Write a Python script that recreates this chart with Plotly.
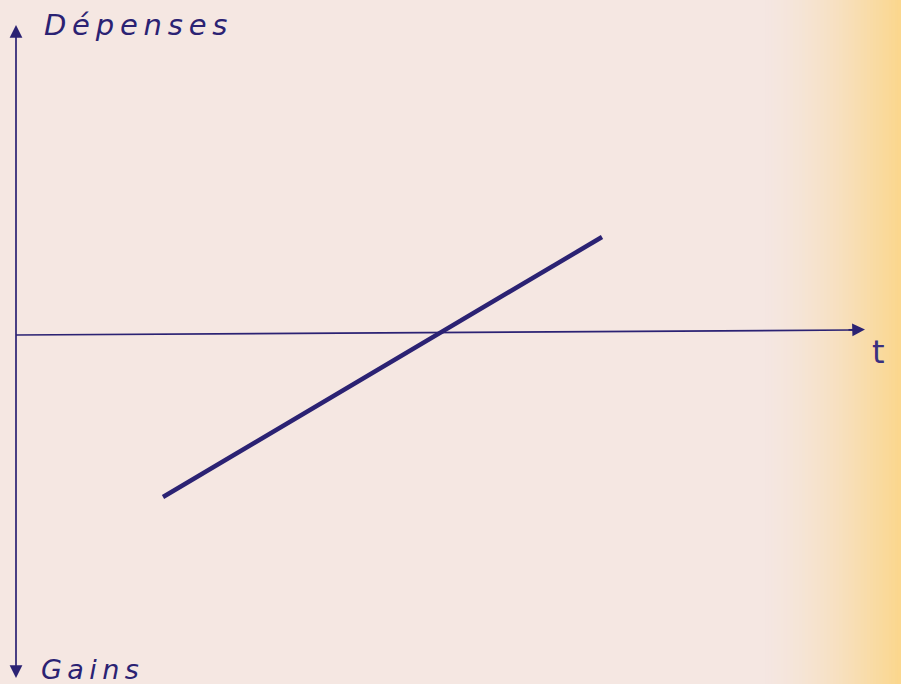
import plotly.graph_objects as go

# Time axis and spending (positive = dépenses, negative = gains)
t_values = [1.46, 5.85]
depenses = [-1.62, 0.98]

# Axis labels
label_y_top = "Dépenses"
label_y_bottom = "Gains"
label_x = "t"

INK = "#2b2273"
PAPER = "#f5e7e2"
THIN = "\u2009"

X_RANGE = [-0.17, 8.84]
Y_RANGE = [-3.49, 3.35]

fig = go.Figure()

# warm yellow wash towards the right edge of the page
shapes = []
n = 45
x0, x1 = 7.45, X_RANGE[1]
c_start = (245, 231, 226)
c_end = (251, 215, 142)
for i in range(n):
    f = i / (n - 1)
    f = f ** 1.5
    r = int(c_start[0] + (c_end[0] - c_start[0]) * f)
    g = int(c_start[1] + (c_end[1] - c_start[1]) * f)
    b = int(c_start[2] + (c_end[2] - c_start[2]) * f)
    xa = x0 + (x1 - x0) * i / n
    xb = x0 + (x1 - x0) * (i + 1) / n + 0.01
    shapes.append(dict(type="rect", xref="x", yref="y", x0=xa, x1=xb,
                       y0=Y_RANGE[0], y1=Y_RANGE[1], line=dict(width=0),
                       fillcolor=f"rgb({r},{g},{b})", layer="below"))

# vertical axis
shapes.append(dict(type="line", xref="x", yref="y", x0=-0.01, x1=-0.01,
                   y0=3.05, y1=-3.35, line=dict(color=INK, width=1.7)))
# horizontal (time) axis, drawn by hand so slightly rising
shapes.append(dict(type="line", xref="x", yref="y", x0=-0.01, x1=8.36,
                   y0=0.0, y1=0.05, line=dict(color=INK, width=1.7)))

fig.update_layout(shapes=shapes)

# the spending line
fig.add_trace(go.Scatter(x=t_values, y=depenses, mode="lines",
                         line=dict(color=INK, width=4.5),
                         hoverinfo="skip", showlegend=False))

annotations = []
# arrow heads
annotations.append(dict(x=-0.01, y=3.1, ax=-0.01, ay=3.0, xref="x", yref="y",
                        axref="x", ayref="y", text="", showarrow=True,
                        arrowhead=2, arrowsize=1.5, arrowwidth=1.7, arrowcolor=INK))
annotations.append(dict(x=-0.01, y=-3.43, ax=-0.01, ay=-3.33, xref="x", yref="y",
                        axref="x", ayref="y", text="", showarrow=True,
                        arrowhead=2, arrowsize=1.5, arrowwidth=1.7, arrowcolor=INK))
annotations.append(dict(x=8.48, y=0.055, ax=8.3, ay=0.05, xref="x", yref="y",
                        axref="x", ayref="y", text="", showarrow=True,
                        arrowhead=2, arrowsize=1.5, arrowwidth=1.7, arrowcolor=INK))

font = dict(family="DejaVu Sans", color=INK)
annotations.append(dict(x=0.25, y=3.29, xref="x", yref="y", xanchor="left",
                        yanchor="top", showarrow=False,
                        text="<i>" + THIN.join(label_y_top) + "</i>",
                        font=dict(size=29, **font)))
annotations.append(dict(x=0.22, y=0, xref="x", yref="paper",
                        xanchor="left", yanchor="bottom", yshift=-3,
                        showarrow=False,
                        text="<i>" + THIN.join(label_y_bottom) + "</i>",
                        font=dict(size=27, **font)))
annotations.append(dict(x=8.53, y=0.04, xref="x", yref="y", xanchor="left",
                        yanchor="top", showarrow=False,
                        text=label_x,
                        font=dict(size=32, family="DejaVu Sans", color="#3a3080")))

fig.update_layout(
    annotations=annotations,
    width=901, height=684,
    margin=dict(l=0, r=0, t=0, b=0),
    paper_bgcolor=PAPER, plot_bgcolor=PAPER,
    xaxis=dict(range=X_RANGE, visible=False, fixedrange=True),
    yaxis=dict(range=Y_RANGE, visible=False, fixedrange=True),
)

fig.write_html("out.html")
